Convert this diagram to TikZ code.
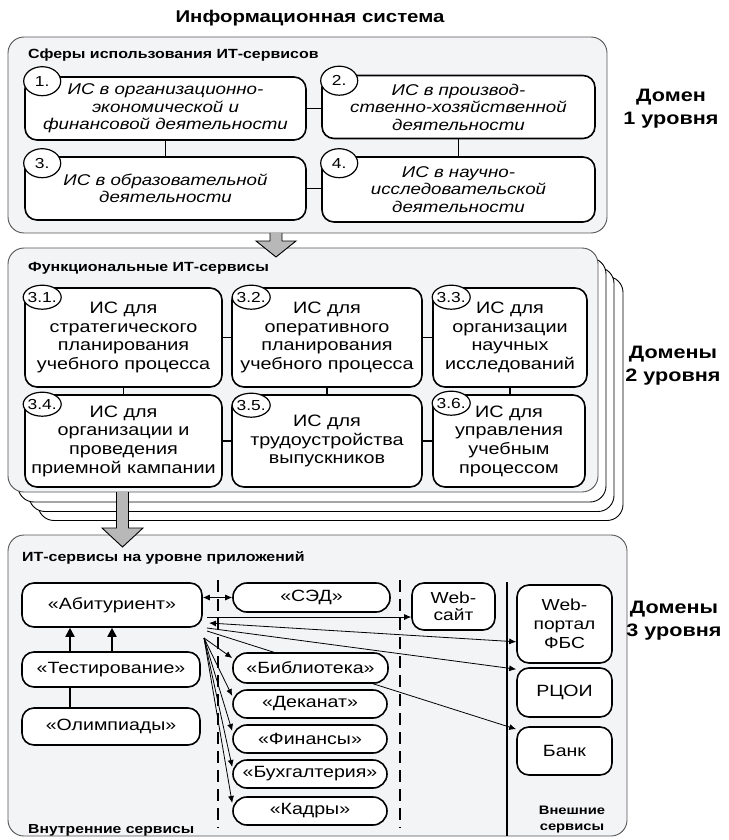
\documentclass[tikz,border=0pt]{standalone}
\usepackage{fontspec}
\setmainfont{Liberation Sans}[FakeStretch=1.2]
\usetikzlibrary{calc,shapes.geometric,arrows.meta}
\pgfdeclarelayer{bg}\pgfdeclarelayer{mid}\pgfsetlayers{bg,mid,main}
\definecolor{domfill}{HTML}{F3F4F6}
\definecolor{domline}{HTML}{555555}
\definecolor{bigarr}{HTML}{B8B8B8}
\begin{document}
\begin{tikzpicture}[x=1pt,y=-1pt,
  dom/.style={draw=domline,fill=domfill,line width=0.9pt,rounded corners=16pt,inner sep=0pt},
  back/.style={draw=black,fill=white,line width=0.9pt,rounded corners=16pt,inner sep=0pt},
  box/.style={draw,fill=white,line width=1.6pt,rounded corners=12pt,align=center,inner sep=0pt},
  ibox/.style={box,font=\fontsize{15.6}{17.5}\selectfont\itshape},
  fbox/.style={box,font=\fontsize{16.5}{18.7}\selectfont},
  abox/.style={box,font=\fontsize{16.3}{19}\selectfont},
  pill/.style={box,rounded corners=14pt,font=\fontsize{16.3}{19}\selectfont},
  num/.style={ellipse,draw,fill=white,line width=1.2pt,inner sep=0pt,minimum width=38pt,
     label={[inner sep=0pt,font=\fontsize{14.5}{14.5}\selectfont]center:#1}},
  hdr/.style={anchor=west,inner sep=0pt,font=\fontsize{13.3}{16}\selectfont\bfseries},
  dlab/.style={align=center,inner sep=0pt,font=\fontsize{18}{23}\selectfont\bfseries},
  conn/.style={line width=1.5pt},
  arr/.style={line width=0.8pt,-{Latex[length=7pt,width=6pt]}},
  darr/.style={line width=0.8pt,{Latex[length=7pt,width=6pt]}-{Latex[length=7pt,width=6pt]}},
  uparr/.style={line width=1.8pt,-{Triangle[length=9pt,width=9pt]}},
  bigarrow/.style={draw=black,fill=bigarr,line width=0.9pt,line join=miter},
  sep/.style={line width=2.6pt,dash pattern=on 12pt off 7pt},
  wall/.style={line width=2.6pt}
]
\useasboundingbox (0,0) rectangle (728,840);

% ---------- domain frames ----------
\begin{pgfonlayer}{bg}
\node[dom,minimum width=599pt,minimum height=196pt] (d1) at (307.5,135) {};
\node[back,minimum width=585pt,minimum height=244pt] (bk3) at (330.5,398.5) {};
\node[back,minimum width=585pt,minimum height=244pt] (bk2) at (321.5,389.5) {};
\node[back,minimum width=588pt,minimum height=244pt] (bk1) at (312,380) {};
\node[dom,minimum width=590pt,minimum height=244pt] (d2) at (303,370) {};
\node[dom,minimum width=619pt,minimum height=301pt] (d3) at (317.5,685.5) {};
\end{pgfonlayer}

\node[font=\fontsize{17}{20}\selectfont\bfseries,inner sep=0pt] (title) at (310,18) {Информационная система};

% ---------- domain 1 ----------
\node[hdr] (h1) at (28,55) {Сферы использования ИТ-сервисов};
\node[ibox,minimum width=281pt,minimum height=63pt] (b1) at (165.5,108.5) {ИС в организационно-\\экономической и\\финансовой деятельности};
\node[ibox,minimum width=273pt,minimum height=63pt] (b2) at (458.5,107) {ИС в производ-\\ственно-хозяйственной\\деятельности};
\node[ibox,minimum width=281pt,minimum height=63pt] (b3) at (165.5,188.5) {ИС в образовательной\\деятельности};
\node[ibox,minimum width=273pt,minimum height=65pt] (b4) at (458.5,189.5) {ИС в научно-\\исследовательской\\деятельности};
\draw[conn] (b1.east) -- (b1.east -| b2.west);
\draw[conn] (b3.east) -- (b3.east -| b4.west);
\draw[conn] (b1.south) -- (b1.south |- b3.north);
\draw[conn] (b2.south) -- (b2.south |- b4.north);
\node[num=1.,minimum width=37pt,minimum height=29pt] (n1) at ($(b1.north west)+(18,5)$) {};
\node[num=2.,minimum width=37pt,minimum height=29pt] (n2) at ($(b2.north west)+(18,6)$) {};
\node[num=3.,minimum width=37pt,minimum height=29pt] (n3) at ($(b3.north west)+(18,7)$) {};
\node[num=4.,minimum width=37pt,minimum height=29pt] (n4) at ($(b4.north west)+(18,7)$) {};
\node[dlab] (L1) at (671,109) {Домен\\1 уровня};

% big arrow 1
\coordinate (g1s) at (276,233);
\coordinate (g1t) at (276,257);
\draw[bigarrow] ($(g1s)+(-6,0)$) -- ($(g1t)+(-6,-16)$) -- ($(g1t)+(-20,-16)$) -- (g1t) -- ($(g1t)+(20,-16)$) -- ($(g1t)+(6,-16)$) -- ($(g1s)+(6,0)$);

% ---------- domain 2 ----------
\node[hdr] (h2) at (28,268) {Функциональные ИТ-сервисы};
\node[fbox,minimum width=197pt,minimum height=99pt] (c1) at (123.5,337.5) {ИС для\\стратегического\\планирования\\учебного процесса};
\node[fbox,minimum width=190pt,minimum height=99pt] (c2) at (327,337.5) {ИС для\\оперативного\\планирования\\учебного процесса};
\node[fbox,minimum width=154pt,minimum height=99pt] (c3) at (510,337.5) {ИС для\\организации\\научных\\исследований};
\node[fbox,minimum width=197pt,minimum height=92pt] (c4) at (123.5,441) {ИС для\\организации и\\проведения\\приемной кампании};
\node[fbox,minimum width=190pt,minimum height=92pt] (c5) at (327,441) {ИС для\\трудоустройства\\выпускников};
\node[fbox,minimum width=152pt,minimum height=92pt] (c6) at (509,441) {ИС для\\управления\\учебным\\процессом};
\draw[conn] (c1.east) -- (c2.west);
\draw[conn] (c2.east) -- (c3.west);
\draw[conn] (c4.east) -- (c5.west);
\draw[conn] (c5.east) -- (c6.west);
\draw[conn] (c1.south) -- (c4.north);
\draw[conn] (c2.south) -- (c5.north);
\draw[conn] (c3.south) -- (c3.south |- c6.north);
\node[num=3.1.,minimum height=24pt] (n31) at ($(c1.north west)+(18,10)$) {};
\node[num=3.2.,minimum height=24pt] (n32) at ($(c2.north west)+(20,10)$) {};
\node[num=3.3.,minimum height=24pt] (n33) at ($(c3.north west)+(19,10)$) {};
\node[num=3.4.,minimum height=24pt] (n34) at ($(c4.north west)+(18,10)$) {};
\node[num=3.5.,minimum height=24pt] (n35) at ($(c5.north west)+(20,11)$) {};
\node[num=3.6.,minimum height=24pt] (n36) at ($(c6.north west)+(19,9)$) {};
\node[dlab] (L2) at (673,366) {Домены\\2 уровня};

% big arrow 2
\coordinate (g2s) at (122.5,492);
\coordinate (g2t) at (122.5,547);
\draw[bigarrow] ($(g2s)+(-6,0)$) -- ($(g2t)+(-6,-19)$) -- ($(g2t)+(-20.5,-19)$) -- (g2t) -- ($(g2t)+(20.5,-19)$) -- ($(g2t)+(6,-19)$) -- ($(g2s)+(6,0)$);

% ---------- domain 3 ----------
\node[hdr] (h3) at (22,558) {ИТ-сервисы на уровне приложений};
\node[abox,minimum width=180pt,minimum height=44pt] (abit) at (112,605) {«Абитуриент»};
\node[abox,minimum width=178pt,minimum height=35pt] (test) at (111,669.5) {«Тестирование»};
\node[abox,minimum width=178pt,minimum height=37pt] (olymp) at (111,726.5) {«Олимпиады»};
\node[pill,minimum width=157pt,minimum height=29pt] (sed) at (311.5,597.5) {«СЭД»};
\node[box,font=\fontsize{16}{17}\selectfont,minimum width=83pt,minimum height=47pt] (web) at (453.5,606.5) {Web-\\сайт};
\node[pill,minimum width=155pt,minimum height=30pt] (lib) at (310.5,668) {«Библиотека»};
\node[pill,minimum width=154pt,minimum height=28pt] (dek) at (310,704) {«Деканат»};
\node[pill,minimum width=154pt,minimum height=28pt] (fin) at (310,739) {«Финансы»};
\node[pill,minimum width=154pt,minimum height=28pt] (buh) at (310,774) {«Бухгалтерия»};
\node[pill,minimum width=154pt,minimum height=28pt] (kad) at (310,811) {«Кадры»};
\node[box,font=\fontsize{16}{19}\selectfont,minimum width=95pt,minimum height=78pt] (fbs) at (564.5,624) {Web-\\портал\\ФБС};
\node[abox,minimum width=95pt,minimum height=49pt] (rcoi) at (564.5,692.5) {РЦОИ};
\node[abox,minimum width=95pt,minimum height=48pt] (bank) at (564.5,751) {Банк};

\coordinate (s1t) at (218,580); \coordinate (s1b) at (218,828);
\coordinate (s2t) at (400,580); \coordinate (s2b) at (400,828);
\coordinate (s3t) at (507,582); \coordinate (s3b) at (507,836);
\draw[sep] (s1t) -- (s1b);
\draw[sep] (s2t) -- (s2b);
\draw[wall] (s3t) -- (s3b);

\node[hdr,font=\fontsize{13.1}{16}\selectfont\bfseries] (inner) at (28,830) {Внутренние сервисы};
\node[align=center,inner sep=0pt,font=\fontsize{12.3}{16}\selectfont\bfseries] (outer) at (572,820) {Внешние\\сервисы};
\node[dlab] (L3) at (674,621) {Домены\\3 уровня};

% connectors in domain 3
\draw[uparr] (test.north -| 70,0) -- (abit.south -| 70,0);
\draw[uparr] (test.north -| 112,0) -- (abit.south -| 112,0);
\draw[conn] (olymp.north -| 70,0) -- (test.south -| 70,0);
\draw[darr] (abit.east |- sed.west) -- (sed.west);
\coordinate (aw) at (207,617);
\draw[arr] (aw) -- (aw -| web.west);
\coordinate (af) at (209,623);
\draw[darr] (af) -- ($(fbs.south west)+(0,-22)$);
\coordinate (ar) at (207,628);
\draw[arr] (ar) -- ($(rcoi.north west)+(0,2)$);
\coordinate (ab) at (207,631);
\begin{pgfonlayer}{mid}
\draw[arr] (ab) -- ($(bank.north west)+(0,3)$);
\end{pgfonlayer}
\coordinate (fan) at (204,638);
\draw[arr] (fan) -- ($(lib.west)+(0,-10)$);
\draw[arr] (fan) -- ($(dek.west)+(0,-8)$);
\draw[arr] (fan) -- ($(fin.west)+(0,-8)$);
\draw[arr] (fan) -- ($(buh.west)+(0,-7)$);
\draw[arr] (fan) -- ($(kad.west)+(0,-8)$);
\end{tikzpicture}
\end{document}
